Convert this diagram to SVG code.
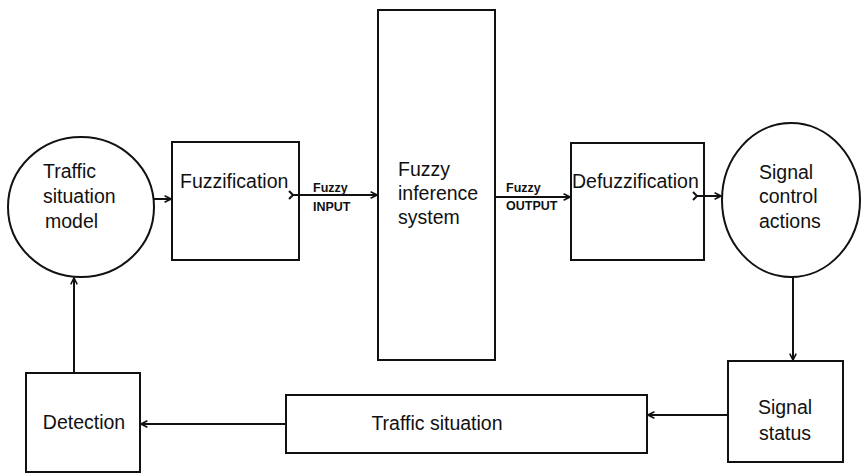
<svg xmlns="http://www.w3.org/2000/svg" width="861" height="473" viewBox="0 0 861 473">
<style>
.box{fill:#fff;stroke:#111;stroke-width:2}
.t{font-family:"Liberation Sans",Arial,sans-serif;font-size:19.5px;fill:#111}
.s{font-family:"Liberation Sans",Arial,sans-serif;font-size:12.5px;font-weight:bold;fill:#111}
.c{stroke:#111;stroke-width:2;fill:none}
</style>
<defs>
<marker id="ah" viewBox="0 0 10 10" refX="9" refY="5" markerWidth="8" markerHeight="8" markerUnits="userSpaceOnUse" orient="auto"><path d="M1,1 L9,5 L1,9" fill="none" stroke="#111" stroke-width="2"/></marker>
</defs>
<rect width="861" height="473" fill="#fff"/>
<g id="traffic-model">
<ellipse class="box" cx="81" cy="207" rx="73" ry="70"/>
<text class="t" x="43" y="178">Traffic</text>
<text class="t" x="43" y="203">situation</text>
<text class="t" x="45" y="228">model</text>
</g>
<g id="fuzzification">
<rect class="box" x="172" y="142" width="127" height="118"/>
<text class="t" x="180" y="188">Fuzzification</text>
</g>
<g id="fis">
<rect class="box" x="378" y="10" width="117" height="350"/>
<text class="t" x="398" y="176">Fuzzy</text>
<text class="t" x="398" y="200">inference</text>
<text class="t" x="398" y="224">system</text>
</g>
<g id="defuzzification">
<rect class="box" x="571" y="143" width="133" height="117"/>
<text class="t" x="572" y="188">Defuzzification</text>
</g>
<g id="signal-control">
<ellipse class="box" cx="791" cy="200" rx="69" ry="77"/>
<text class="t" x="759" y="179">Signal</text>
<text class="t" x="759" y="203">control</text>
<text class="t" x="759" y="228">actions</text>
</g>
<g id="signal-status">
<rect class="box" x="728" y="361" width="115" height="101"/>
<text class="t" x="785" y="414" text-anchor="middle">Signal</text>
<text class="t" x="785" y="440" text-anchor="middle">status</text>
</g>
<g id="traffic-situation">
<rect class="box" x="286" y="395" width="361" height="58"/>
<text class="t" x="437" y="430" text-anchor="middle">Traffic situation</text>
</g>
<g id="detection">
<rect class="box" x="26" y="373" width="114" height="99"/>
<text class="t" x="84" y="429" text-anchor="middle">Detection</text>
</g>
<g id="connectors">
<path class="c" d="M154,199 H171" marker-end="url(#ah)"/>
<path class="c" d="M292,195 H377" marker-end="url(#ah)"/>
<path class="c" d="M289,191 L293,195 L289,199"/>
<path class="c" d="M495,197 H570" marker-end="url(#ah)"/>
<path class="c" d="M696,196 H721" marker-end="url(#ah)"/>
<path class="c" d="M693,192 L697,196 L693,200"/>
<path class="c" d="M793,277 V360" marker-end="url(#ah)"/>
<path class="c" d="M728,415 H648" marker-end="url(#ah)"/>
<path class="c" d="M286,424 H141" marker-end="url(#ah)"/>
<path class="c" d="M74,373 V278" marker-end="url(#ah)"/>
<text class="s" x="313" y="192">Fuzzy</text>
<text class="s" x="313" y="211">INPUT</text>
<text class="s" x="506" y="192">Fuzzy</text>
<text class="s" x="506" y="210">OUTPUT</text>
</g>
</svg>
